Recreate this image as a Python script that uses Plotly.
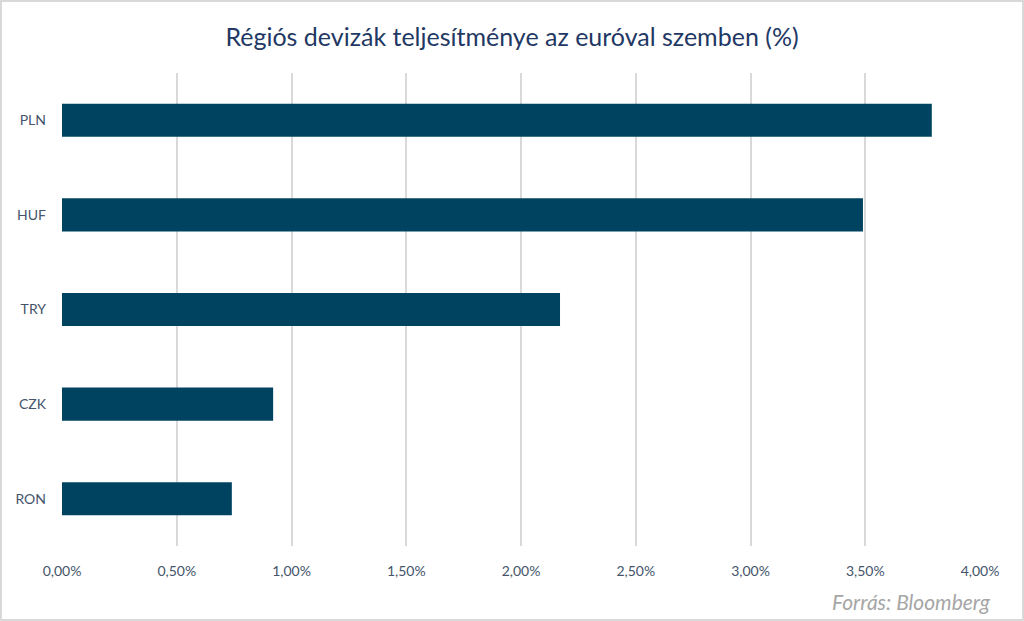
import plotly.graph_objects as go

categories = ["RON", "CZK", "TRY", "HUF", "PLN"]
values = [0.74, 0.92, 2.17, 3.49, 3.79]
tick_vals = [0, 0.5, 1.0, 1.5, 2.0, 2.5, 3.0, 3.5, 4.0]
tick_text = ["0,00%", "0,50%", "1,00%", "1,50%", "2,00%", "2,50%", "3,00%", "3,50%", "4,00%"]
title = "Régiós devizák teljesítménye az euróval szemben (%)"
source = "Forrás: Bloomberg"

W, H = 1024, 621
ml, mr, mt, mb = 62, 44, 73, 75
pw, ph = W - ml - mr, H - mt - mb

fig = go.Figure(go.Bar(
    x=values, y=categories, orientation="h",
    marker=dict(color="#004361", line=dict(width=0)),
))

fig.update_layout(
    width=W, height=H,
    margin=dict(l=ml, r=mr, t=mt, b=mb),
    paper_bgcolor="white", plot_bgcolor="white",
    bargap=0.65,
    font=dict(family="Lato, Calibri, sans-serif", color="#44546A", size=14),
    title=dict(text=title, x=0.5, xanchor="center", y=1 - 37 / H, yanchor="middle",
               font=dict(size=25, color="#1F3864", family="Lato, sans-serif")),
    xaxis=dict(range=[0, 4.0], tickvals=tick_vals, ticktext=tick_text,
               showgrid=True, gridcolor="#D9D9D9", gridwidth=1.5,
               zeroline=False, showline=False, ticks="", ticklen=0,
               ticklabelstandoff=15,
               tickfont=dict(size=14, color="#44546A")),
    yaxis=dict(showgrid=False, zeroline=False, showline=False, ticks="",
               ticklabelstandoff=15,
               tickfont=dict(size=14, color="#44546A")),
    showlegend=False,
)

fig.add_annotation(text=source, xref="paper", yref="paper",
                   x=(993 - ml) / pw, y=-(601 - mt - ph) / ph,
                   xanchor="right", yanchor="middle", showarrow=False,
                   font=dict(size=21, color="#A6A6A6", family="Lato, sans-serif", style="italic"))

fig.add_shape(type="rect", xref="paper", yref="paper",
              x0=-(ml - 1) / pw, x1=1 + (mr - 1) / pw,
              y0=-(mb - 1) / ph, y1=1 + (mt - 1) / ph,
              line=dict(color="#D9D9D9", width=2), layer="below")

fig.write_html("out.html", config={"displayModeBar": False},
               post_script="document.body.style.margin='0';document.body.style.padding='0';")
